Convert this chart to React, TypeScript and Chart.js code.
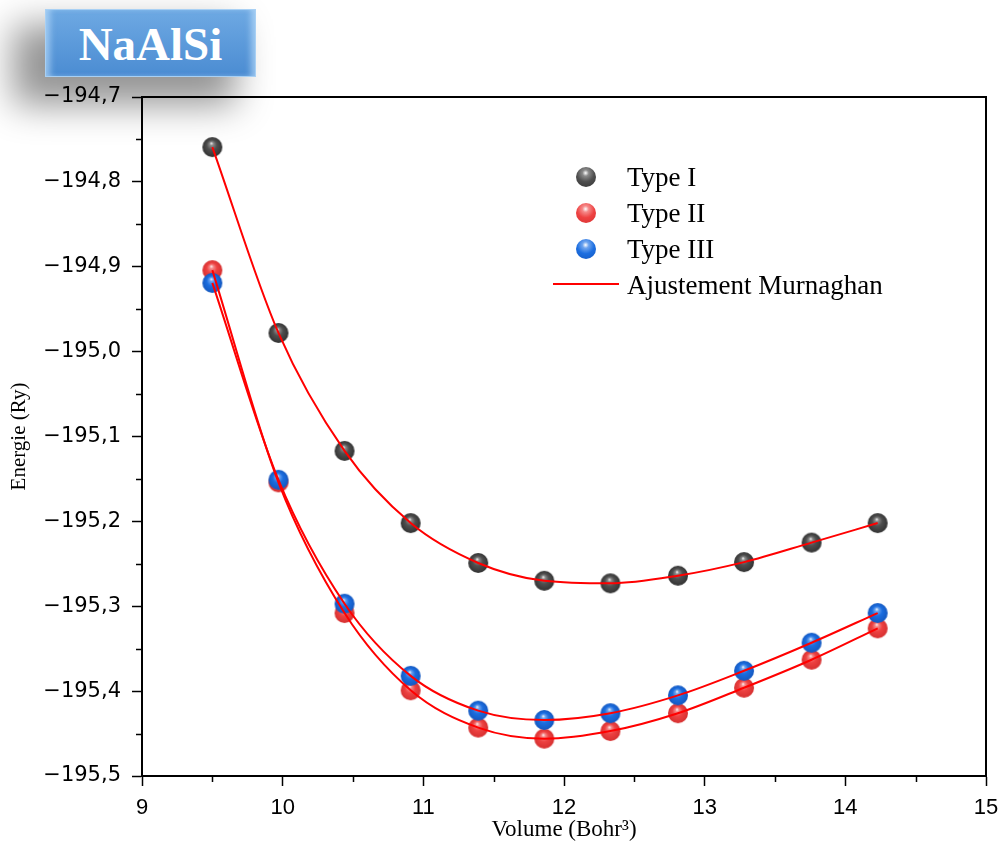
import React, { useEffect, useRef } from 'react';
import { Chart, registerables } from 'chart.js';

Chart.register(...registerables);

// ---- Data ----
const volumes = [9.5, 9.97, 10.44, 10.91, 11.39, 11.86, 12.33, 12.81, 13.28, 13.76, 14.23];
const typeI = [-194.759, -194.978, -195.117, -195.202, -195.249, -195.27, -195.273, -195.264, -195.248, -195.225, -195.202];
const typeII = [-194.904, -195.154, -195.308, -195.399, -195.443, -195.456, -195.447, -195.426, -195.396, -195.363, -195.326];
const typeIII = [-194.919, -195.151, -195.297, -195.382, -195.423, -195.434, -195.426, -195.405, -195.376, -195.343, -195.308];

const xTicks = [9, 10, 11, 12, 13, 14, 15];
const xMinorTicks = [9.5, 10.5, 11.5, 12.5, 13.5, 14.5];
const yTicks = [-195.5, -195.4, -195.3, -195.2, -195.1, -195.0, -194.9, -194.8, -194.7];
const yMinorTicks = [-195.45, -195.35, -195.25, -195.15, -195.05, -194.95, -194.85, -194.75];

const seriesLabels = ['Type I', 'Type II', 'Type III'];
const fitLabel = 'Ajustement Murnaghan';
const chartTitle = 'NaAlSi';
const xTitle = 'Volume (Bohr³)';
const yTitle = 'Energie (Ry)';

const sphereColors = [
  { base: '#4f4f4f', mid: '#8a8a8a', dark: '#333333' },
  { base: '#ee4242', mid: '#f58a8a', dark: '#d63030' },
  { base: '#1c6ee0', mid: '#6ea4ee', dark: '#1458c0' },
];

function makeSphere(c: { base: string; mid: string; dark: string }, r = 10) {
  const cv = document.createElement('canvas');
  const s = r * 2 + 2;
  cv.width = s;
  cv.height = s;
  const ctx = cv.getContext('2d')!;
  const cx = s / 2;
  const cy = s / 2;
  const g = ctx.createRadialGradient(cx - r * 0.1, cy - r * 0.4, 0, cx, cy, r);
  g.addColorStop(0, '#ffffff');
  g.addColorStop(0.18, c.mid);
  g.addColorStop(0.5, c.base);
  g.addColorStop(1, c.dark);
  ctx.fillStyle = g;
  ctx.beginPath();
  ctx.arc(cx, cy, r, 0, Math.PI * 2);
  ctx.fill();
  return cv;
}

function fmt(v: number) {
  return v.toFixed(1).replace('.', ',').replace('-', '\u2212');
}

const minorTicksPlugin = {
  id: 'minorTicksAndFrame',
  afterDatasetsDraw(chart: any) {
    const { ctx, chartArea, scales } = chart;
    const xs = scales.x;
    const ys = scales.y;
    ctx.save();
    ctx.strokeStyle = '#000';
    ctx.lineWidth = 1.5;
    ctx.beginPath();
    yMinorTicks.forEach((v) => {
      const y = Math.round(ys.getPixelForValue(v)) + 0.5;
      ctx.moveTo(chartArea.left, y);
      ctx.lineTo(chartArea.left - 6, y);
    });
    xMinorTicks.forEach((v) => {
      const x = Math.round(xs.getPixelForValue(v)) + 0.5;
      ctx.moveTo(x, chartArea.bottom);
      ctx.lineTo(x, chartArea.bottom + 6);
    });
    ctx.stroke();
    ctx.lineWidth = 2;
    ctx.strokeRect(chartArea.left, chartArea.top, chartArea.right - chartArea.left, chartArea.bottom - chartArea.top);
    ctx.restore();
  },
};

function sphereCss(c: { base: string; mid: string; dark: string }) {
  return `radial-gradient(circle at 48% 30%, #ffffff 0%, ${c.mid} 18%, ${c.base} 50%, ${c.dark} 100%)`;
}

export default function App() {
  const ref = useRef<HTMLCanvasElement>(null);

  useEffect(() => {
    const images = sphereColors.map((c) => makeSphere(c));
    const toPts = (ys: number[]) => volumes.map((x, i) => ({ x, y: ys[i] }));
    const all = [typeI, typeII, typeIII];
    const fitSets = all.map((ys, i) => ({
      label: fitLabel + ' ' + (i + 1),
      data: toPts(ys),
      showLine: true,
      borderColor: '#ff0000',
      borderWidth: 2,
      pointRadius: 0,
      cubicInterpolationMode: 'monotone' as const,
      order: 0,
    }));
    const pointSets = all.map((ys, i) => ({
      label: seriesLabels[i],
      data: toPts(ys),
      showLine: false,
      pointStyle: images[i],
      pointRadius: 10,
      order: 1,
    }));
    const chart = new Chart(ref.current!, {
      type: 'scatter',
      data: { datasets: [...fitSets, ...pointSets.slice().reverse()] as any },
      options: {
        animation: false,
        responsive: false,
        events: [],
        layout: { padding: { top: 97, right: 18, left: 0, bottom: 0 } },
        plugins: { legend: { display: false }, tooltip: { enabled: false } },
        scales: {
          x: {
            type: 'linear',
            min: 9,
            max: 15,
            afterFit: (s: any) => {
              s.height = 71;
              s.paddingLeft = 0;
              s.paddingRight = 0;
            },
            afterBuildTicks: (s: any) => {
              s.ticks = xTicks.map((v) => ({ value: v }));
            },
            grid: { drawOnChartArea: false, tickLength: 10, tickWidth: 1.5, tickColor: '#000' },
            border: { display: true, color: '#000', width: 2 },
            ticks: {
              color: '#000',
              padding: 9,
              maxRotation: 0,
              font: { family: "'Liberation Sans', Arial, sans-serif", size: 22 },
              callback: (v: any) => String(v),
            },
            title: {
              display: true,
              text: xTitle,
              color: '#000',
              font: { family: "'Liberation Serif', 'Times New Roman', serif", size: 23 },
              padding: { top: 0, bottom: 3 },
            },
          },
          y: {
            type: 'linear',
            min: -195.5,
            max: -194.7,
            afterFit: (s: any) => {
              s.width = 142;
              s.paddingTop = 0;
              s.paddingBottom = 0;
            },
            afterBuildTicks: (s: any) => {
              s.ticks = yTicks.map((v) => ({ value: v }));
            },
            grid: { drawOnChartArea: false, tickLength: 10, tickWidth: 1.5, tickColor: '#000' },
            border: { display: true, color: '#000', width: 2 },
            ticks: {
              color: '#000',
              padding: 11,
              font: { family: "'DejaVu Sans', sans-serif", size: 21 },
              callback: (v: any) => fmt(Number(v)),
            },
            title: {
              display: true,
              text: yTitle,
              color: '#000',
              font: { family: "'Liberation Serif', 'Times New Roman', serif", size: 21 },
              padding: { top: 7, bottom: 0 },
            },
          },
        },
      },
      plugins: [minorTicksPlugin],
    });
    return () => chart.destroy();
  }, []);

  const legendFont = "'Liberation Serif', 'Times New Roman', serif";
  const rowYs = [177, 213, 249];

  return (
    <div style={{ position: 'absolute', left: 0, top: 0, width: 1004, height: 847, background: '#fff', overflow: 'hidden' }}>
      <div
        style={{
          position: 'absolute',
          left: 45,
          top: 9,
          width: 211,
          height: 68,
          boxSizing: 'border-box',
          border: '1px solid #a8d0f4',
          background: 'linear-gradient(#6ea9e3, #4b8cd2)',
          boxShadow:
            '-26px 22px 36px 6px rgba(0,0,0,0.42), inset 7px 0 6px -3px rgba(200,230,255,0.6), inset -7px 0 6px -3px rgba(200,230,255,0.6)',
          color: '#fff',
          fontFamily: legendFont,
          fontWeight: 'bold',
          fontSize: 47,
          lineHeight: '68px',
          textAlign: 'center',
        }}
      >
        {chartTitle}
      </div>
      <canvas ref={ref} width={1004} height={847} style={{ position: 'absolute', left: 0, top: 0, width: 1004, height: 847 }} />
      {seriesLabels.map((lab, i) => (
        <React.Fragment key={lab}>
          <div
            style={{
              position: 'absolute',
              left: 576,
              top: rowYs[i] - 10,
              width: 20,
              height: 20,
              borderRadius: '50%',
              background: sphereCss(sphereColors[i]),
            }}
          />
          <div
            style={{
              position: 'absolute',
              left: 627,
              top: rowYs[i] - 16,
              height: 32,
              lineHeight: '32px',
              fontFamily: legendFont,
              fontSize: 27,
              color: '#000',
              whiteSpace: 'nowrap',
            }}
          >
            {lab}
          </div>
        </React.Fragment>
      ))}
      <div style={{ position: 'absolute', left: 553, top: 283, width: 66, height: 2, background: '#ff0000' }} />
      <div
        style={{
          position: 'absolute',
          left: 627,
          top: 285 - 16,
          height: 32,
          lineHeight: '32px',
          fontFamily: legendFont,
          fontSize: 27,
          color: '#000',
          whiteSpace: 'nowrap',
        }}
      >
        {fitLabel}
      </div>
    </div>
  );
}
